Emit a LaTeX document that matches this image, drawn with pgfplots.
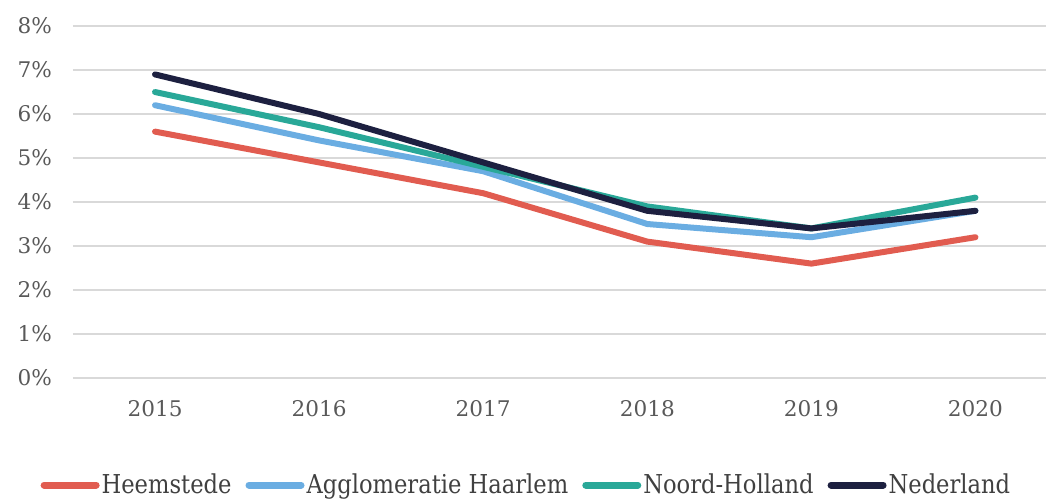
\documentclass[border=0pt]{standalone}
\usepackage{pgfplots}
\pgfplotsset{compat=1.18}
\usepackage{fontspec}
\setmainfont{DejaVu Serif}
\newfontfamily\legfont{DejaVu Serif}[FakeStretch=0.87]
\definecolor{cHeem}{RGB}{225,92,80}
\definecolor{cAgg}{RGB}{106,173,226}
\definecolor{cNH}{RGB}{41,168,152}
\definecolor{cNL}{RGB}{29,32,64}
\definecolor{tickgray}{RGB}{89,89,89}
\definecolor{gridgray}{RGB}{217,217,217}
\begin{document}
\begin{tikzpicture}
\useasboundingbox (-36.5pt,-61pt) rectangle (486.5pt,189pt);
\begin{axis}[scale only axis,width=486.5pt,height=176pt,
  xmin=-0.5,xmax=5.43,ymin=0,ymax=8,
  xtick={0,...,5},xticklabels={2015,2016,2017,2018,2019,2020},
  ytick={0,...,8},yticklabels={0\%,1\%,2\%,3\%,4\%,5\%,6\%,7\%,8\%},
  axis line style={draw=none},major tick length=0pt,
  ymajorgrids,grid style={gridgray,line width=1pt},
  tick label style={font=\fontsize{10.8}{13}\selectfont,text=tickgray},
  yticklabel style={xshift=-7pt},
  xticklabel style={yshift=-7.5pt},
  legend columns=4,
  legend style={draw=none,fill=none,at={(0.466,-0.304)},anchor=center,
    font=\legfont\fontsize{13}{15}\selectfont,text=black!75,
    /tikz/every even column/.append style={column sep=6pt},
    nodes={inner xsep=1pt}},
  legend image code/.code={\draw[#1,line width=3.5pt,line cap=round] (0pt,0pt) -- (26pt,0pt);},
  every axis plot/.append style={line width=3pt,line cap=round,line join=round,mark=none}]
\addplot[cHeem] coordinates {(0,5.6) (1,4.9) (2,4.2) (3,3.1) (4,2.6) (5,3.2)};
\addlegendentry{Heemstede}
\addplot[cAgg] coordinates {(0,6.2) (1,5.4) (2,4.7) (3,3.5) (4,3.2) (5,3.8)};
\addlegendentry{Agglomeratie Haarlem}
\addplot[cNH] coordinates {(0,6.5) (1,5.7) (2,4.8) (3,3.9) (4,3.4) (5,4.1)};
\addlegendentry{Noord-Holland}
\addplot[cNL] coordinates {(0,6.9) (1,6.0) (2,4.9) (3,3.8) (4,3.4) (5,3.8)};
\addlegendentry{Nederland}
\end{axis}
\end{tikzpicture}
\end{document}
